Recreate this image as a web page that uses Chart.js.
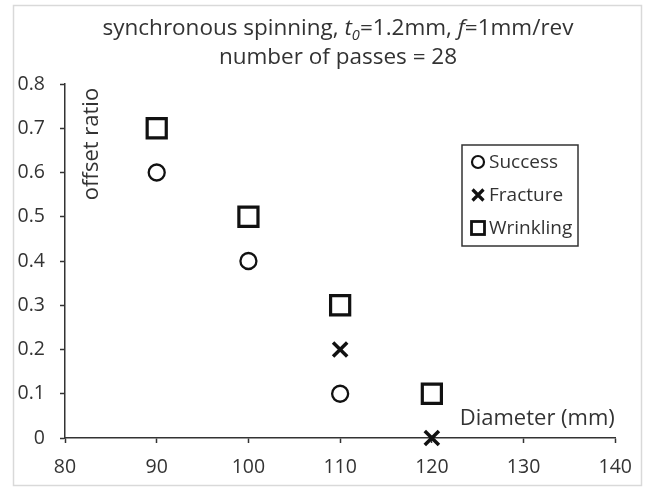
<!DOCTYPE html>
<html>
<head>
<meta charset="utf-8">
<script src="https://cdn.jsdelivr.net/npm/chart.js@4/dist/chart.umd.min.js"></script>
<style>
  html, body { margin: 0; padding: 0; background: #fff; }
  #wrap { width: 645px; height: 488px; position: relative; }
</style>
</head>
<body>
<div id="wrap"><canvas id="chart" width="645" height="488"></canvas></div>
<script>
// data
const successX = [90, 100, 110]
const successY = [0.6, 0.4, 0.1]
const fractureX = [110, 120]
const fractureY = [0.2, 0]
const wrinklingX = [90, 100, 110, 120]
const wrinklingY = [0.7, 0.5, 0.3, 0.1]

const titleLine1 = [
  { t: "synchronous spinning, " },
  { t: "t", i: true },
  { t: "0", i: true, sub: true },
  { t: "=1.2mm, " },
  { t: "f", i: true },
  { t: "=1mm/rev" }
]
const titleLine2 = "number of passes = 28"

const FONT = "'Open Sans', 'Noto Sans', sans-serif"
const INK = "#333333"

function pts(xs, ys) {
  return xs.map((x, i) => ({ x: x, y: ys[i] }))
}

const series = [
  { label: "Success", data: pts(successX, successY), pointStyle: "circle", pointRadius: 8, pointBorderWidth: 2.3 },
  { label: "Fracture", data: pts(fractureX, fractureY), pointStyle: "crossRot", pointRadius: 10, pointBorderWidth: 3.5 },
  { label: "Wrinkling", data: pts(wrinklingX, wrinklingY), pointStyle: "rect", pointRadius: 13.5, pointBorderWidth: 3.2 }
]

// frame, title, axis titles and legend box
const decor = {
  id: "decor",
  beforeDraw(chart) {
    const ctx = chart.ctx
    ctx.save()
    ctx.strokeStyle = "#d9d9d9"
    ctx.lineWidth = 1.5
    ctx.strokeRect(13.5, 5.5, 628, 480)
    ctx.restore()
  },
  afterDraw(chart) {
    const ctx = chart.ctx
    const area = chart.chartArea
    ctx.save()
    ctx.fillStyle = INK
    ctx.textBaseline = "middle"

    // title line 1 with italic parts
    const size = 22.5
    let total = 0
    titleLine1.forEach(s => {
      ctx.font = (s.i ? "italic " : "") + (s.sub ? size * 0.65 : size) + "px " + FONT
      s.w = ctx.measureText(s.t).width
      total += s.w
    })
    let x = 338 - total / 2
    titleLine1.forEach(s => {
      ctx.font = (s.i ? "italic " : "") + (s.sub ? size * 0.65 : size) + "px " + FONT
      ctx.textAlign = "left"
      ctx.fillText(s.t, x, s.sub ? 36 : 29)
      x += s.w
    })
    ctx.font = size + "px " + FONT
    ctx.textAlign = "center"
    ctx.fillText(titleLine2, 338, 58)

    // axis titles inside the plot
    ctx.font = "22px " + FONT
    ctx.save()
    ctx.translate(area.left + 27, area.top + 60)
    ctx.rotate(-Math.PI / 2)
    ctx.fillText("offset ratio", 0, 0)
    ctx.restore()
    ctx.fillText("Diameter (mm)", area.right - 78, area.bottom - 19)

    // legend
    const lx = 462, ly = 145, lw = 116, lh = 101
    ctx.strokeStyle = INK
    ctx.lineWidth = 1.5
    ctx.strokeRect(lx, ly, lw, lh)
    ctx.font = "19px " + FONT
    ctx.textAlign = "left"
    const rows = [162, 195, 228]
    chart.data.datasets.forEach((ds, i) => {
      const cy = rows[i]
      const cx = 478
      ctx.strokeStyle = "#111"
      if (ds.pointStyle === "circle") {
        ctx.lineWidth = 2.2
        ctx.beginPath()
        ctx.arc(cx, cy, 6, 0, Math.PI * 2)
        ctx.stroke()
      } else if (ds.pointStyle === "crossRot") {
        ctx.lineWidth = 3.2
        ctx.beginPath()
        ctx.moveTo(cx - 5.5, cy - 5.5); ctx.lineTo(cx + 5.5, cy + 5.5)
        ctx.moveTo(cx + 5.5, cy - 5.5); ctx.lineTo(cx - 5.5, cy + 5.5)
        ctx.stroke()
      } else {
        ctx.lineWidth = 2.8
        ctx.strokeRect(cx - 6.5, cy - 6.5, 13, 13)
      }
      ctx.fillStyle = INK
      ctx.fillText(ds.label, 489, cy + 1)
    })
    ctx.restore()
  }
}

new Chart(document.getElementById("chart"), {
  type: "scatter",
  data: {
    datasets: series.map(s => ({
      label: s.label,
      data: s.data,
      pointStyle: s.pointStyle,
      pointRadius: s.pointRadius,
      pointHoverRadius: s.pointRadius,
      pointBorderWidth: s.pointBorderWidth,
      borderColor: "#111",
      backgroundColor: "rgba(0,0,0,0)",
      clip: false
    }))
  },
  options: {
    responsive: false,
    animation: false,
    events: [],
    layout: { padding: { left: 0, right: 29, top: 84, bottom: 0 } },
    plugins: {
      legend: { display: false },
      title: { display: false },
      tooltip: { enabled: false }
    },
    scales: {
      x: {
        type: "linear",
        min: 80,
        max: 140,
        afterFit: s => { s.height = 50 },
        border: { display: true, color: INK, width: 1.5 },
        grid: { drawOnChartArea: false, drawTicks: true, tickLength: 5, color: INK, tickWidth: 1.5 },
        ticks: { stepSize: 10, padding: 13, color: INK, font: { family: FONT, size: 19.5 } }
      },
      y: {
        type: "linear",
        min: 0,
        max: 0.8,
        afterFit: s => { s.width = 65 },
        border: { display: true, color: INK, width: 1.5 },
        grid: { drawOnChartArea: false, drawTicks: true, tickLength: 5, color: INK, tickWidth: 1.5 },
        ticks: {
          stepSize: 0.1,
          padding: 15,
          color: INK,
          font: { family: FONT, size: 19.5 },
          callback: v => String(Math.round(v * 10) / 10)
        }
      }
    }
  },
  plugins: [decor]
})
</script>
</body>
</html>
